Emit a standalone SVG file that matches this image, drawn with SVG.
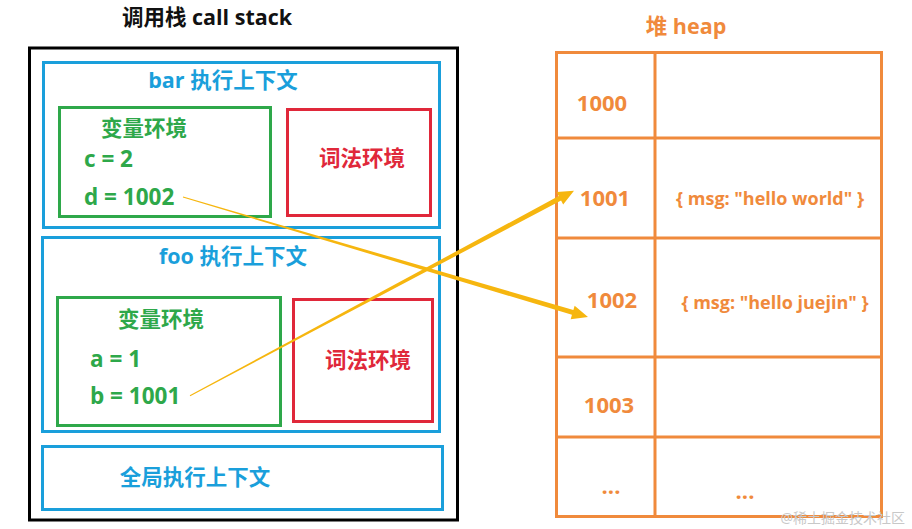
<svg xmlns="http://www.w3.org/2000/svg" width="912" height="529" viewBox="0 0 912 529">
<style>
text{font-family:"Open Sans","Noto Sans CJK SC",sans-serif;font-weight:bold}
.t{fill:#111;font-size:21.5px}
.b{fill:#1a9fdb;font-size:21.5px}
.g{fill:#2ea84a;font-size:21.5px}
.v{fill:#2ea84a;font-size:22.5px}
.r{fill:#e0283a;font-size:21.5px}
.o{fill:#f08a3c;font-size:21.5px}
.on{fill:#f08a3c;font-size:22px}
.os{fill:#f08a3c;font-size:18px}
.blue{fill:none;stroke:#1a9fdb;stroke-width:3}
.green{fill:none;stroke:#2ea84a;stroke-width:3}
.red{fill:none;stroke:#e0283a;stroke-width:3}
.or{fill:none;stroke:#f08a3c;stroke-width:3}
.arrow{fill:#f6b60f;stroke:none}
</style>
<rect width="912" height="529" fill="#fff"/>
<g id="stack">
<text class="t" x="207" y="25" text-anchor="middle">调用栈 call stack</text>
<rect x="29.5" y="48" width="428" height="472" fill="none" stroke="#000" stroke-width="3"/>
</g>
<g id="bar">
<rect class="blue" x="43.5" y="62.5" width="396" height="165"/>
<text class="b" x="223" y="88" text-anchor="middle">bar 执行上下文</text>
</g>
<g id="bar-var">
<rect class="green" x="59.5" y="107.5" width="211" height="109"/>
<text class="g" x="144" y="136" text-anchor="middle">变量环境</text>
<text class="v" x="84" y="167">c = 2</text>
<text class="v" x="84" y="205">d = 1002</text>
</g>
<g id="bar-lex">
<rect class="red" x="287.5" y="109.5" width="143" height="106"/>
<text class="r" x="362" y="166" text-anchor="middle">词法环境</text>
</g>
<g id="foo">
<rect class="blue" x="42.5" y="237.5" width="397" height="194"/>
<text class="b" x="233" y="264" text-anchor="middle">foo 执行上下文</text>
</g>
<g id="foo-var">
<rect class="green" x="57.5" y="297.5" width="223" height="128"/>
<text class="g" x="161" y="327" text-anchor="middle">变量环境</text>
<text class="v" x="90" y="367">a = 1</text>
<text class="v" x="90" y="404">b = 1001</text>
</g>
<g id="foo-lex">
<rect class="red" x="293.5" y="299.5" width="139" height="122"/>
<text class="r" x="368" y="368" text-anchor="middle">词法环境</text>
</g>
<g id="global">
<rect class="blue" x="42.5" y="446.5" width="400" height="63"/>
<text class="b" x="195" y="485" text-anchor="middle">全局执行上下文</text>
</g>
<g id="heap">
<text class="o" x="686" y="34" text-anchor="middle">堆 heap</text>
<rect class="or" x="556.5" y="52.5" width="325" height="464"/>
<line class="or" x1="655" y1="52" x2="655" y2="517"/>
<line class="or" x1="556" y1="138" x2="882" y2="138"/>
<line class="or" x1="556" y1="238" x2="882" y2="238"/>
<line class="or" x1="556" y1="357" x2="882" y2="357"/>
<line class="or" x1="556" y1="437" x2="882" y2="437"/>
</g>
<g id="h1000"><text class="on" x="602" y="111" text-anchor="middle">1000</text></g>
<g id="h1001"><text class="on" x="605" y="206" text-anchor="middle">1001</text>
<text class="os" x="770" y="205" text-anchor="middle">{ msg: "hello world" }</text></g>
<g id="h1002"><text class="on" x="612" y="308" text-anchor="middle">1002</text>
<text class="os" x="775" y="309" text-anchor="middle">{ msg: "hello juejin" }</text></g>
<g id="h1003"><text class="on" x="609" y="413" text-anchor="middle">1003</text></g>
<g id="hmore"><text class="on" x="611" y="494" text-anchor="middle">...</text>
<text class="on" x="745" y="499" text-anchor="middle">...</text></g>
<g id="connectors">
<path class="arrow" d="M182.86,197.48 L571.95,314.85 L570.67,319.16 L588,317 L574.65,305.74 L573.37,310.05 L183.14,196.52 Z"/>
<path class="arrow" d="M190.24,396.14 L561.07,200.44 L563.19,204.41 L574,190.7 L556.59,192.05 L558.71,196.02 L189.76,395.26 Z"/>
</g>
<text x="905" y="523" text-anchor="end" style="font-weight:normal;font-size:14px;fill:#c8c8c8">@稀土掘金技术社区</text>
</svg>
